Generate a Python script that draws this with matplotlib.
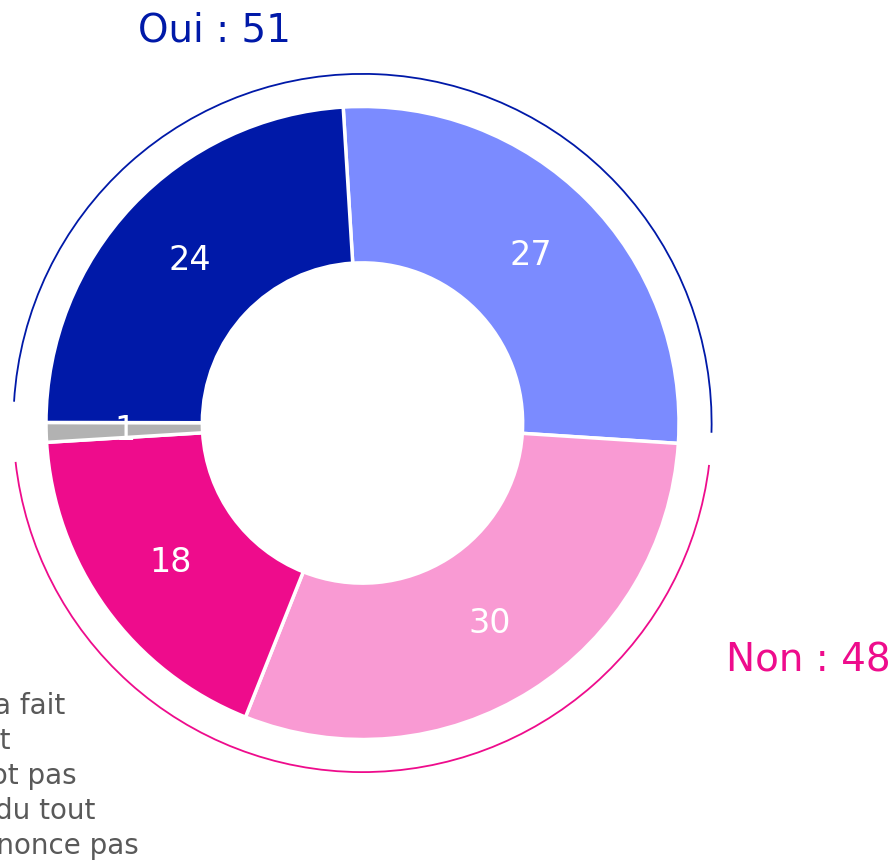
import matplotlib.pyplot as plt
import numpy as np
from matplotlib.patches import Arc

# data (legend text as shown in the source, without accents)
labels = ['Oui, tout a fait', 'Oui, plutot', 'Non, plutot pas',
          'Non, pas du tout', 'Ne se prononce pas']
values = [24, 27, 30, 18, 1]
colors = ['#0019A8', '#7B8BFF', '#F99AD3', '#EE0C8C', '#B2B2B2']
total_oui = 51
total_non = 48

# drawing order: clockwise from the top, starting with "Oui, plutot"
order = [1, 2, 3, 4, 0]


def main():
    plt.rcParams['font.family'] = ['DejaVu Sans']
    W, H = 896, 865
    cx, cy, R = 362.5, 423.0, 316.5
    fig = plt.figure(figsize=(W / 100, H / 100), dpi=100)
    ax = fig.add_axes([0, 0, 1, 1])

    vals = [values[i] for i in order]
    cols = [colors[i] for i in order]
    start = 93.5
    wedges, _ = ax.pie(vals, colors=cols, radius=1, startangle=start,
                       counterclock=False,
                       wedgeprops=dict(width=0.494, edgecolor='white',
                                       linewidth=2.5))
    ax.set_xlim(-cx / R, (W - cx) / R)
    ax.set_ylim(-(H - cy) / R, cy / R)
    ax.set_aspect('equal')
    ax.axis('off')

    # value labels in the middle of the ring
    ang = start
    for v in vals:
        mid = np.deg2rad(ang - v * 3.6 / 2)
        ax.text(0.75 * np.cos(mid), 0.75 * np.sin(mid), str(v),
                color='white', fontsize=24, ha='center', va='center')
        ang -= v * 3.6

    # outer arcs for the Oui / Non groups
    oui_end = start + values[0] * 3.6
    oui_start = start - values[1] * 3.6
    non_end = oui_start
    non_start = non_end - (values[2] + values[3]) * 3.6
    ra = 2 * 1.103
    ax.add_patch(Arc((0, 0), ra, ra, theta1=oui_start + 2.1,
                     theta2=oui_end - 3.4, color='#0019A8', lw=1.3))
    ax.add_patch(Arc((0, 0), ra, ra, theta1=non_start + 2.9,
                     theta2=non_end - 3.2, color='#EE0C8C', lw=1.3))

    fig.text(214.5 / W, 1 - 30 / H, f'Oui : {total_oui}', color='#0019A8',
             fontsize=28, ha='center', va='center')
    fig.text(808 / W, 1 - 660 / H, f'Non : {total_non}', color='#EE0C8C',
             fontsize=28, ha='center', va='center')

    # legend partly outside the figure, as in the source image
    leg = ax.legend(wedges[-1:] + wedges[:-1], labels, frameon=False,
                    loc='upper left', bbox_to_anchor=(-178 / W, 1 - 692 / H),
                    bbox_transform=fig.transFigure, fontsize=20,
                    borderpad=0, borderaxespad=0, handlelength=1,
                    handletextpad=0.5, labelspacing=0.25)
    for t in leg.get_texts():
        t.set_color('#595959')

    plt.savefig('out.png', dpi=100)


if __name__ == '__main__':
    main()
